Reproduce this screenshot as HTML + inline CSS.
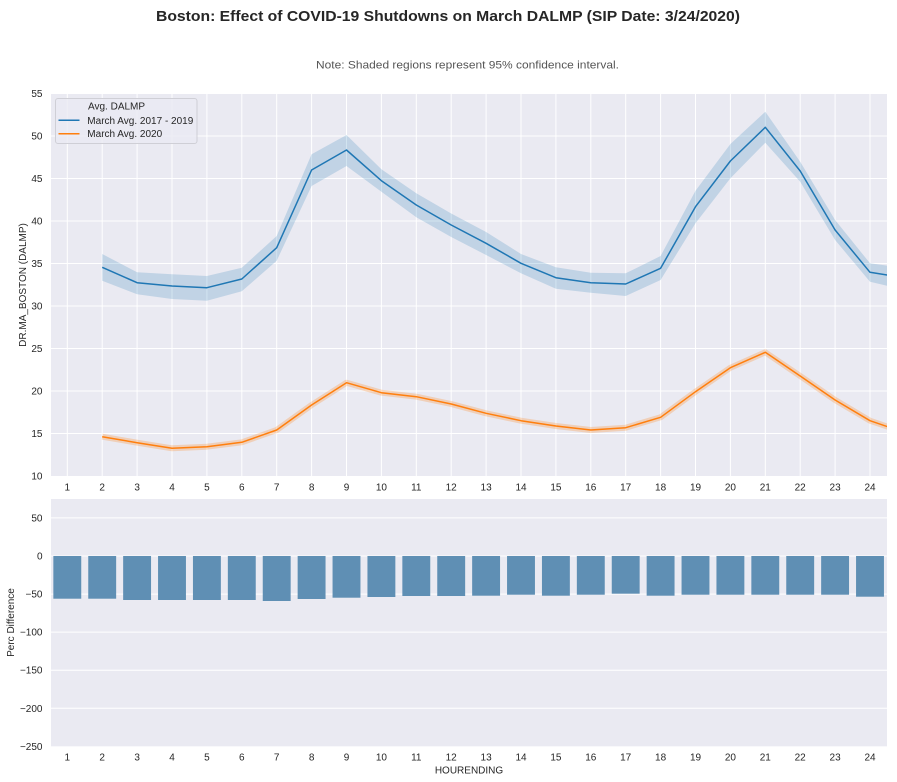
<!DOCTYPE html>
<html><head><meta charset="utf-8"><style>
html,body{margin:0;padding:0;background:#fff;}
svg{display:block;}
text{font-family:"Liberation Sans",Arial,sans-serif;}
</style></head><body>
<svg width="897" height="782" viewBox="0 0 897 782" xmlns="http://www.w3.org/2000/svg">
<defs>
<clipPath id="c1"><rect x="51" y="93.5" width="836" height="382.5"/></clipPath>
</defs>
<text x="448" y="21" text-anchor="middle" font-size="15" font-weight="bold" fill="#262626" textLength="584" lengthAdjust="spacingAndGlyphs">Boston: Effect of COVID-19 Shutdowns on March DALMP (SIP Date: 3/24/2020)</text>
<text x="467.5" y="68.5" text-anchor="middle" font-size="11" fill="#555" textLength="303" lengthAdjust="spacingAndGlyphs">Note: Shaded regions represent 95% confidence interval.</text>

<!-- TOP AXES -->
<rect x="51" y="93.5" width="836" height="382.5" fill="#EAEAF2"/>
<g stroke="#fff" stroke-width="1">
<line x1="51" x2="887" y1="93.5" y2="93.5"/><line x1="51" x2="887" y1="136" y2="136"/><line x1="51" x2="887" y1="178.5" y2="178.5"/><line x1="51" x2="887" y1="221" y2="221"/><line x1="51" x2="887" y1="263.5" y2="263.5"/><line x1="51" x2="887" y1="306" y2="306"/><line x1="51" x2="887" y1="348.5" y2="348.5"/><line x1="51" x2="887" y1="391" y2="391"/><line x1="51" x2="887" y1="433.5" y2="433.5"/>
<line y1="93.5" y2="476" x1="67.3" x2="67.3"/><line y1="93.5" y2="476" x1="102.2" x2="102.2"/><line y1="93.5" y2="476" x1="137.1" x2="137.1"/><line y1="93.5" y2="476" x1="172" x2="172"/><line y1="93.5" y2="476" x1="206.9" x2="206.9"/><line y1="93.5" y2="476" x1="241.8" x2="241.8"/><line y1="93.5" y2="476" x1="276.7" x2="276.7"/><line y1="93.5" y2="476" x1="311.6" x2="311.6"/><line y1="93.5" y2="476" x1="346.5" x2="346.5"/><line y1="93.5" y2="476" x1="381.4" x2="381.4"/><line y1="93.5" y2="476" x1="416.3" x2="416.3"/><line y1="93.5" y2="476" x1="451.2" x2="451.2"/><line y1="93.5" y2="476" x1="486.1" x2="486.1"/><line y1="93.5" y2="476" x1="521" x2="521"/><line y1="93.5" y2="476" x1="555.9" x2="555.9"/><line y1="93.5" y2="476" x1="590.8" x2="590.8"/><line y1="93.5" y2="476" x1="625.7" x2="625.7"/><line y1="93.5" y2="476" x1="660.6" x2="660.6"/><line y1="93.5" y2="476" x1="695.5" x2="695.5"/><line y1="93.5" y2="476" x1="730.4" x2="730.4"/><line y1="93.5" y2="476" x1="765.3" x2="765.3"/><line y1="93.5" y2="476" x1="800.2" x2="800.2"/><line y1="93.5" y2="476" x1="835.1" x2="835.1"/><line y1="93.5" y2="476" x1="870" x2="870"/>
</g>
<g clip-path="url(#c1)">
<polygon fill="#1f77b4" fill-opacity="0.2" points="102.2,254 137.1,272.3 172,274.3 206.9,276 241.8,267.7 276.7,236 311.6,154.3 346.5,135 381.4,169.3 416.3,193.3 451.2,213.5 486.1,232 521,254 555.9,267.3 590.8,272.7 625.7,273.3 660.6,256 695.5,190.7 730.4,144 765.3,111.7 800.2,161.7 835.1,220 870,263.3 904.9,268.2 904.9,289.9 870,281.7 835.1,240 800.2,181.7 765.3,142.7 730.4,178.3 695.5,223.3 660.6,280 625.7,296 590.8,292.7 555.9,288.7 521,273.3 486.1,255 451.2,237 416.3,217.3 381.4,191.7 346.5,166 311.6,186 276.7,260.7 241.8,291.3 206.9,300.7 172,299 137.1,294.3 102.2,280.7"/>
<polyline fill="none" stroke="#1f77b4" stroke-width="1.5" stroke-linejoin="round" points="102.2,267.3 137.1,282.7 172,286 206.9,287.7 241.8,279 276.7,247.7 311.6,170 346.5,150 381.4,180.7 416.3,205 451.2,225 486.1,243.3 521,263.3 555.9,277.7 590.8,282.7 625.7,284 660.6,268.3 695.5,206.7 730.4,161 765.3,127.3 800.2,171 835.1,230 870,272.3 904.9,277.8"/>
<polyline fill="none" stroke="#ff7f0e" stroke-opacity="0.25" stroke-width="6" stroke-linejoin="round" points="102.2,436.7 137.1,442.7 172,448.3 206.9,446.7 241.8,442.3 276.7,430 311.6,405 346.5,382.7 381.4,392.7 416.3,396.7 451.2,404 486.1,413.3 521,420.7 555.9,426 590.8,430 625.7,427.7 660.6,417.3 695.5,391.7 730.4,367.7 765.3,352.3 800.2,376 835.1,400 870,420.7 904.9,432.6"/>
<polyline fill="none" stroke="#ff7f0e" stroke-width="1.5" stroke-linejoin="round" points="102.2,436.7 137.1,442.7 172,448.3 206.9,446.7 241.8,442.3 276.7,430 311.6,405 346.5,382.7 381.4,392.7 416.3,396.7 451.2,404 486.1,413.3 521,420.7 555.9,426 590.8,430 625.7,427.7 660.6,417.3 695.5,391.7 730.4,367.7 765.3,352.3 800.2,376 835.1,400 870,420.7 904.9,432.6"/>
</g>
<!-- legend -->
<rect x="55.5" y="98.5" width="141.5" height="45" rx="2.5" fill="#EAEAF2" fill-opacity="0.8" stroke="#cfcfd6" stroke-width="1"/>
<text x="88" y="109.6" font-size="10" fill="#262626">Avg. DALMP</text>
<line x1="58.5" x2="79.5" y1="120.3" y2="120.3" stroke="#1f77b4" stroke-width="1.5"/>
<text x="87.3" y="123.8" font-size="10" fill="#262626">March Avg. 2017 - 2019</text>
<line x1="58.5" x2="79.5" y1="133.7" y2="133.7" stroke="#ff7f0e" stroke-width="1.5"/>
<text x="87.3" y="137.2" font-size="10" fill="#262626">March Avg. 2020</text>

<!-- top y ticks -->
<g font-size="10" fill="#262626" text-anchor="end">
<text x="42.5" y="97">55</text><text x="42.5" y="139.5">50</text><text x="42.5" y="182">45</text><text x="42.5" y="224.5">40</text><text x="42.5" y="267">35</text><text x="42.5" y="309.5">30</text><text x="42.5" y="352">25</text><text x="42.5" y="394.5">20</text><text x="42.5" y="437">15</text><text x="42.5" y="479.5">10</text>
</g>
<g font-size="10" fill="#262626" text-anchor="middle">
<text x="67.3" y="490.5">1</text><text x="102.2" y="490.5">2</text><text x="137.1" y="490.5">3</text><text x="172" y="490.5">4</text><text x="206.9" y="490.5">5</text><text x="241.8" y="490.5">6</text><text x="276.7" y="490.5">7</text><text x="311.6" y="490.5">8</text><text x="346.5" y="490.5">9</text><text x="381.4" y="490.5">10</text><text x="416.3" y="490.5">11</text><text x="451.2" y="490.5">12</text><text x="486.1" y="490.5">13</text><text x="521" y="490.5">14</text><text x="555.9" y="490.5">15</text><text x="590.8" y="490.5">16</text><text x="625.7" y="490.5">17</text><text x="660.6" y="490.5">18</text><text x="695.5" y="490.5">19</text><text x="730.4" y="490.5">20</text><text x="765.3" y="490.5">21</text><text x="800.2" y="490.5">22</text><text x="835.1" y="490.5">23</text><text x="870" y="490.5">24</text>
</g>
<text transform="translate(26,285) rotate(-90)" text-anchor="middle" font-size="10" fill="#262626">DR.MA_BOSTON (DALMP)</text>

<!-- BOTTOM AXES -->
<rect x="51" y="499" width="836" height="247.3" fill="#EAEAF2"/>
<g stroke="#fff" stroke-width="1">
<line x1="51" x2="887" y1="517.9" y2="517.9"/><line x1="51" x2="887" y1="556" y2="556"/><line x1="51" x2="887" y1="594.1" y2="594.1"/><line x1="51" x2="887" y1="632.1" y2="632.1"/><line x1="51" x2="887" y1="670.2" y2="670.2"/><line x1="51" x2="887" y1="708.3" y2="708.3"/>
</g>
<g fill="#5f8fb4">
<rect x="53.35" y="556" width="27.9" height="42.7"/><rect x="88.25" y="556" width="27.9" height="42.7"/><rect x="123.15" y="556" width="27.9" height="44"/><rect x="158.05" y="556" width="27.9" height="44"/><rect x="192.95" y="556" width="27.9" height="44"/><rect x="227.85" y="556" width="27.9" height="44"/><rect x="262.75" y="556" width="27.9" height="45"/><rect x="297.65" y="556" width="27.9" height="43"/><rect x="332.55" y="556" width="27.9" height="41.7"/><rect x="367.45" y="556" width="27.9" height="41"/><rect x="402.35" y="556" width="27.9" height="40"/><rect x="437.25" y="556" width="27.9" height="40"/><rect x="472.15" y="556" width="27.9" height="39.7"/><rect x="507.05" y="556" width="27.9" height="38.7"/><rect x="541.95" y="556" width="27.9" height="39.7"/><rect x="576.85" y="556" width="27.9" height="38.7"/><rect x="611.75" y="556" width="27.9" height="37.7"/><rect x="646.65" y="556" width="27.9" height="39.7"/><rect x="681.55" y="556" width="27.9" height="38.7"/><rect x="716.45" y="556" width="27.9" height="38.7"/><rect x="751.35" y="556" width="27.9" height="38.7"/><rect x="786.25" y="556" width="27.9" height="38.7"/><rect x="821.15" y="556" width="27.9" height="38.7"/><rect x="856.05" y="556" width="27.9" height="40.7"/>
</g>
<g font-size="10" fill="#262626" text-anchor="end">
<text x="42.5" y="521.4">50</text><text x="42.5" y="559.5">0</text><text x="42.5" y="597.6">−50</text><text x="42.5" y="635.6">−100</text><text x="42.5" y="673.7">−150</text><text x="42.5" y="711.8">−200</text><text x="42.5" y="749.8">−250</text>
</g>
<g font-size="10" fill="#262626" text-anchor="middle">
<text x="67.3" y="760.5">1</text><text x="102.2" y="760.5">2</text><text x="137.1" y="760.5">3</text><text x="172" y="760.5">4</text><text x="206.9" y="760.5">5</text><text x="241.8" y="760.5">6</text><text x="276.7" y="760.5">7</text><text x="311.6" y="760.5">8</text><text x="346.5" y="760.5">9</text><text x="381.4" y="760.5">10</text><text x="416.3" y="760.5">11</text><text x="451.2" y="760.5">12</text><text x="486.1" y="760.5">13</text><text x="521" y="760.5">14</text><text x="555.9" y="760.5">15</text><text x="590.8" y="760.5">16</text><text x="625.7" y="760.5">17</text><text x="660.6" y="760.5">18</text><text x="695.5" y="760.5">19</text><text x="730.4" y="760.5">20</text><text x="765.3" y="760.5">21</text><text x="800.2" y="760.5">22</text><text x="835.1" y="760.5">23</text><text x="870" y="760.5">24</text>
</g>
<text transform="translate(14,622.5) rotate(-90)" text-anchor="middle" font-size="10" fill="#262626">Perc Difference</text>
<text x="469" y="773.5" text-anchor="middle" font-size="10" fill="#262626">HOURENDING</text>
</svg>
</body></html>
